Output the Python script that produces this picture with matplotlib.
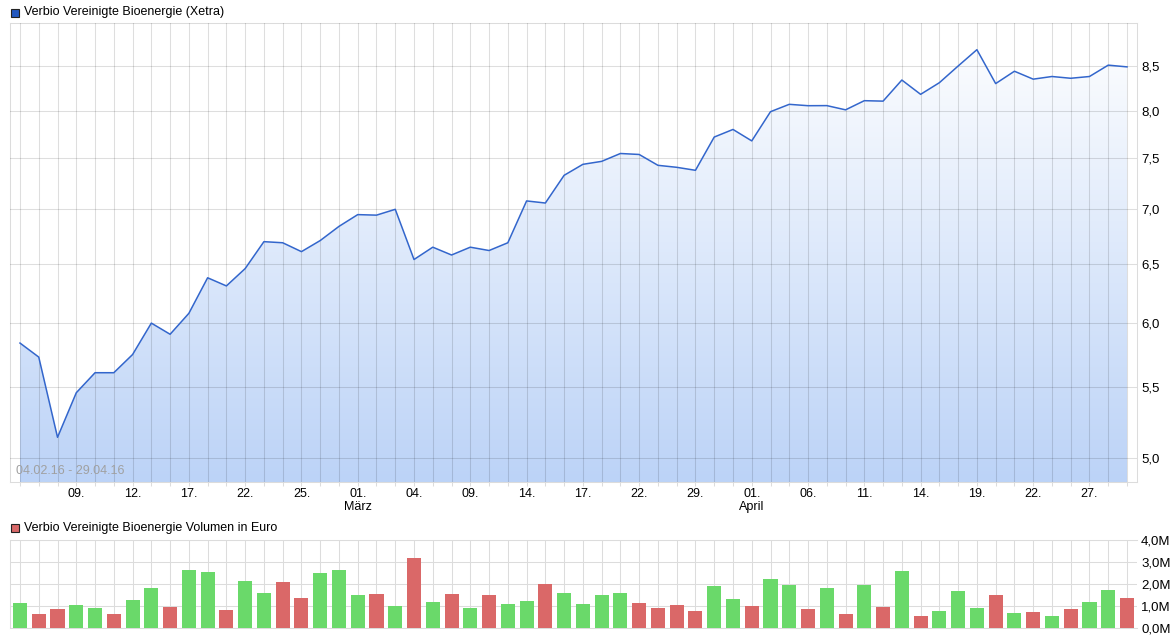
import numpy as np
import matplotlib.pyplot as plt
from matplotlib.patches import Rectangle
from matplotlib.colors import LinearSegmentedColormap
from matplotlib.ticker import FuncFormatter, NullLocator

plt.rcParams['font.family'] = ['Liberation Sans', 'DejaVu Sans']

# trading days 04.02.16 - 29.04.16
dates = ['04.02', '05.02', '08.02', '09.02', '10.02', '11.02', '12.02', '15.02', '16.02', '17.02',
         '18.02', '19.02', '22.02', '23.02', '24.02', '25.02', '26.02', '29.02', '01.03', '02.03',
         '03.03', '04.03', '07.03', '08.03', '09.03', '10.03', '11.03', '14.03', '15.03', '16.03',
         '17.03', '18.03', '21.03', '22.03', '23.03', '24.03', '29.03', '30.03', '31.03', '01.04',
         '04.04', '05.04', '06.04', '07.04', '08.04', '11.04', '12.04', '13.04', '14.04', '15.04',
         '18.04', '19.04', '20.04', '21.04', '22.04', '25.04', '26.04', '27.04', '28.04', '29.04']

price = [5.84, 5.73, 5.14, 5.46, 5.61, 5.61, 5.75, 6.00, 5.91, 6.08,
         6.38, 6.31, 6.46, 6.70, 6.69, 6.61, 6.71, 6.84, 6.95, 6.945,
         7.00, 6.54, 6.65, 6.58, 6.65, 6.62, 6.69, 7.08, 7.06, 7.33,
         7.44, 7.47, 7.55, 7.54, 7.43, 7.41, 7.38, 7.72, 7.80, 7.68,
         7.99, 8.07, 8.055, 8.056, 8.01, 8.11, 8.105, 8.34, 8.18, 8.31,
         8.50, 8.69, 8.30, 8.44, 8.35, 8.38, 8.36, 8.38, 8.51, 8.49]

# volume in million euro
volume = [1.13, 0.63, 0.85, 1.04, 0.90, 0.63, 1.27, 1.82, 0.95, 2.64,
          2.55, 0.81, 2.14, 1.59, 2.09, 1.36, 2.50, 2.64, 1.50, 1.54,
          0.99, 3.19, 1.18, 1.54, 0.90, 1.50, 1.08, 1.22, 2.00, 1.59,
          1.08, 1.50, 1.59, 1.13, 0.90, 1.04, 0.76, 1.91, 1.31, 0.99,
          2.23, 1.95, 0.85, 1.82, 0.63, 1.95, 0.95, 2.59, 0.53, 0.76,
          1.68, 0.90, 1.50, 0.67, 0.72, 0.53, 0.85, 1.18, 1.72, 1.36]

vol_dir = ['u', 'd', 'd', 'u', 'u', 'd', 'u', 'u', 'd', 'u',
           'u', 'd', 'u', 'u', 'd', 'd', 'u', 'u', 'u', 'd',
           'u', 'd', 'u', 'd', 'u', 'd', 'u', 'u', 'd', 'u',
           'u', 'u', 'u', 'd', 'd', 'd', 'd', 'u', 'u', 'd',
           'u', 'u', 'd', 'u', 'd', 'u', 'd', 'u', 'd', 'u',
           'u', 'u', 'd', 'u', 'd', 'u', 'd', 'u', 'u', 'd']

price_ticks = [5.0, 5.5, 6.0, 6.5, 7.0, 7.5, 8.0, 8.5]
vol_ticks = [0, 1, 2, 3, 4]
month_names = {'03': 'März', '04': 'April'}

W, H = 1176, 642
fig = plt.figure(figsize=(W / 100, H / 100), dpi=100)

GRID = '#dcdcdc'
LW = 0.75
x = np.arange(len(price))
xlim = (-0.533, len(price) - 1 + 0.533)


def fx(px):
    return px / W


def fy(py):
    return 1 - py / H


ax = fig.add_axes([fx(10), fy(482.3), fx(1127), (482.3 - 23) / H])
ax.set_yscale('log')

# gradient fill under the line (white at top, light blue at bottom)
cmap = LinearSegmentedColormap.from_list('g', ['#ffffff', '#bcd3f7'])
grad = np.linspace(0, 1, 256).reshape(-1, 1)
im = ax.imshow(grad, extent=[0, 1, 0, 1], origin='upper', transform=ax.transAxes,
               aspect='auto', cmap=cmap, zorder=1, interpolation='bilinear')
poly = ax.fill_between(x, price, 4.0, color='none', zorder=1)
im.set_clip_path(poly.get_paths()[0], transform=ax.transData)
ax.plot(x, price, color='#3366cc', lw=1.1, zorder=3)

ax.set_xlim(*xlim)
ax.set_ylim(4.836, 9.01)
ax.set_yticks(price_ticks)
ax.yaxis.set_minor_locator(NullLocator())
ax.yaxis.set_major_formatter(FuncFormatter(lambda v, p: f'{v:.1f}'.replace('.', ',')))
ax.yaxis.tick_right()

labels = []
for i, d in enumerate(dates):
    if i % 3 == 0 and i > 0:
        lab = d[:2] + '.'
        if d[:2] == '01':
            lab += '\n' + month_names[d[3:]]
        labels.append(lab)
    else:
        labels.append('')
ax.set_xticks(x)
ax.set_xticklabels(labels, fontsize=9, linespacing=1.1)
ax.tick_params(axis='x', length=3, width=LW, color=GRID, pad=1)
ax.tick_params(axis='y', length=0, pad=3, labelsize=9.5)
ax.grid(True, color='#000000', alpha=0.13, lw=LW, zorder=2)
ax.set_axisbelow(False)
for s in ax.spines.values():
    s.set_color(GRID)
    s.set_linewidth(LW)
    s.set_zorder(2)

ax.text(0.005, 0.025, '04.02.16 - 29.04.16', transform=ax.transAxes,
        color='#a0a0a0', fontsize=9, va='center', ha='left', zorder=4)

# volume panel
axv = fig.add_axes([fx(10), fy(627.7), fx(1127), (627.7 - 540.3) / H])
colors = ['#6ad96a' if d == 'u' else '#da6868' for d in vol_dir]
axv.bar(x, volume, width=0.75, color=colors, zorder=3)
axv.set_xlim(*xlim)
axv.set_ylim(0, 4)
axv.set_yticks(vol_ticks)
axv.yaxis.set_major_formatter(FuncFormatter(lambda v, p: f'{v:.1f}M'.replace('.', ',')))
axv.yaxis.tick_right()
axv.set_xticks(x)
axv.set_xticklabels([])
axv.tick_params(axis='x', length=0)
axv.tick_params(axis='y', length=0, pad=3, labelsize=9.5)
axv.grid(True, color=GRID, lw=LW, zorder=0)
axv.set_axisbelow(True)
axv.spines['right'].set_visible(False)
for s in ['left', 'top', 'bottom']:
    axv.spines[s].set_color(GRID)
    axv.spines[s].set_linewidth(LW)

# legend-style headers
fig.patches.append(Rectangle((fx(11), fy(17)), fx(8), 8 / H, transform=fig.transFigure,
                             facecolor='#2258c0', edgecolor='#222222', lw=0.8))
fig.text(fx(24), fy(12.5), 'Verbio Vereinigte Bioenergie (Xetra)', fontsize=9, va='center')
fig.patches.append(Rectangle((fx(11), fy(532)), fx(8), 8 / H, transform=fig.transFigure,
                             facecolor='#d96868', edgecolor='#222222', lw=0.8))
fig.text(fx(24), fy(527.5), 'Verbio Vereinigte Bioenergie Volumen in Euro', fontsize=9, va='center')

fig.savefig('out.png', dpi=100)
